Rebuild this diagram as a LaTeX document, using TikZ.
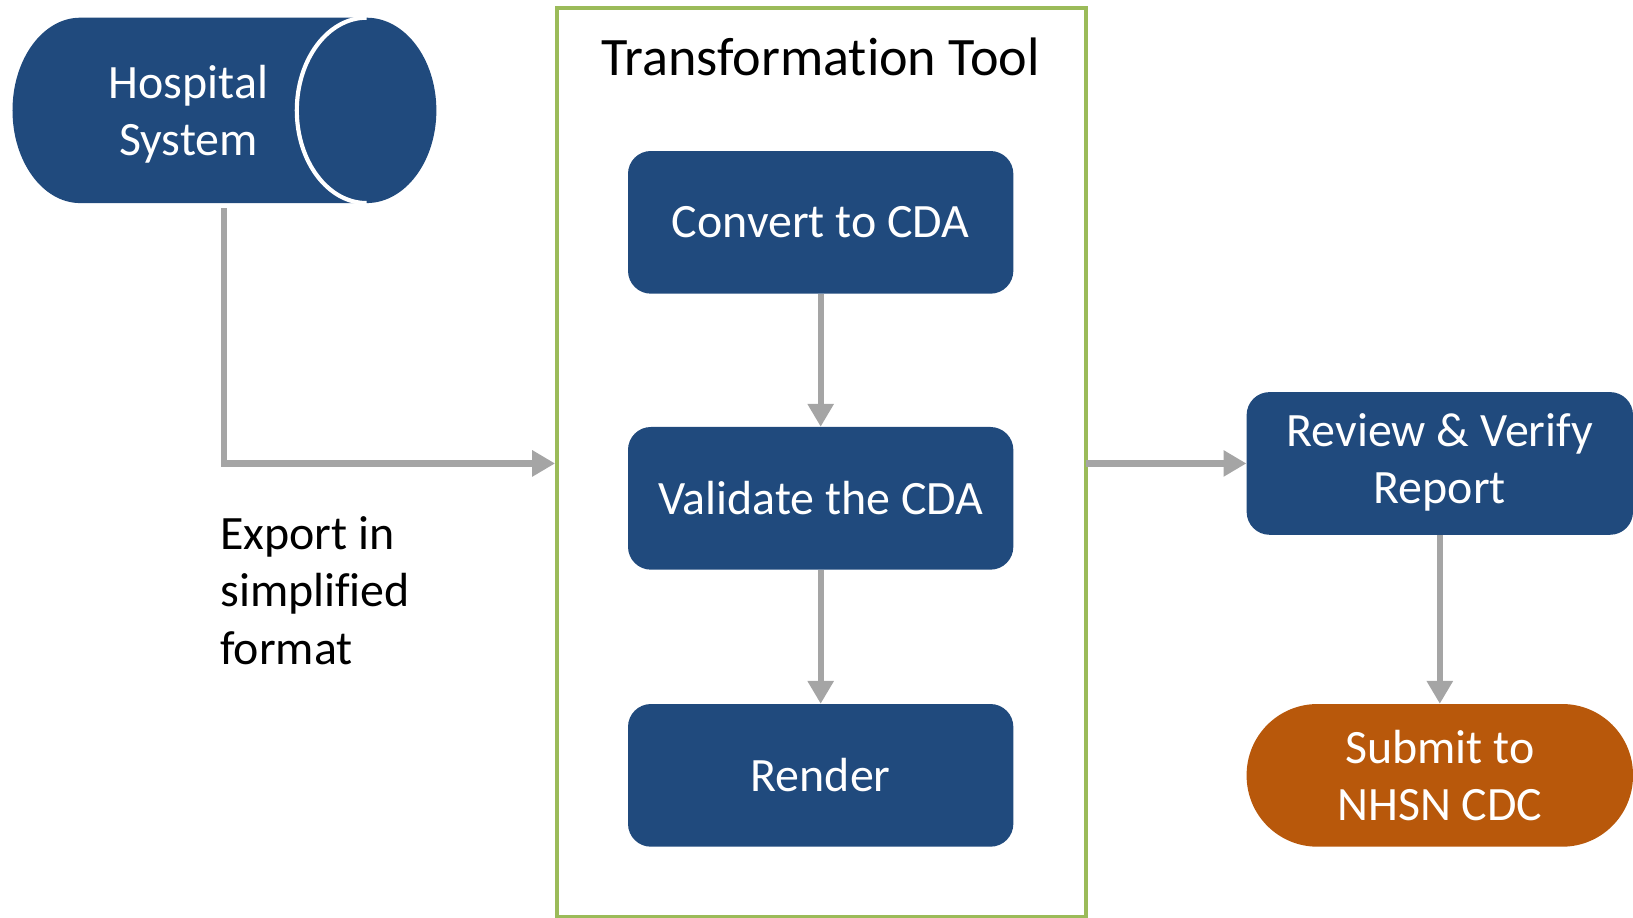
\documentclass[tikz,border=0pt]{standalone}
\usepackage{fontspec}
\setmainfont[Ligatures=NoCommon]{Carlito}
\usetikzlibrary{arrows.meta}
\definecolor{navy}{RGB}{32,74,125}
\definecolor{rust}{RGB}{184,88,11}
\definecolor{leaf}{RGB}{155,187,89}
\definecolor{wire}{RGB}{165,165,165}
\begin{document}
\begin{tikzpicture}[x=1pt,y=1pt,
  bigtext/.style={font=\fontsize{46}{55}\selectfont},
  stepbox/.style={rectangle, rounded corners=22pt, fill=navy, text=white,
    minimum width=370pt, minimum height=137pt, align=center, inner sep=0pt, bigtext},
  endbox/.style={rectangle, rounded corners=68pt, fill=rust, text=white,
    minimum width=371pt, minimum height=137pt, align=center, inner sep=0pt, bigtext},
  flow/.style={draw=wire, line width=6pt, -{Triangle[length=22pt,width=24pt]}},
]
\useasboundingbox (0,0) rectangle (1568,881);

% tool frame
\draw[leaf, line width=4pt] (535,0) rectangle (1043,873);
\node[font=\fontsize{52}{60}\selectfont, text=black] (title) at (788,826) {Transformation Tool};

% hospital system drum
\fill[navy] (352,864) -- (77,864)
  arc[start angle=90, end angle=270, x radius=65, y radius=89]
  -- (352,686)
  arc[start angle=-90, end angle=90, x radius=67, y radius=89] -- cycle;
\draw[white, line width=4pt] (352,864)
  arc[start angle=90, end angle=270, x radius=67, y radius=89];
\node[bigtext, text=white, align=center] (hosp) at (181,771) {Hospital\\System};
\coordinate (hospout) at (215,681);
\coordinate (bend) at (215,436);
\coordinate (framein) at (533,436);
\coordinate (frameout) at (1043,436);

% steps
\node[stepbox] (convert) at (788,667.5) {Convert to CDA};
\node[stepbox] (validate) at (788,402.5) {Validate the CDA};
\node[stepbox] (render) at (788,136.5) {Render};
\node[stepbox, minimum width=371pt] (review) at (1382.5,436) {\raisebox{-3pt}{\begin{tabular}{@{}c@{}}Review \& Verify\\Report\end{tabular}}};
\node[endbox] (submit) at (1382.5,136.5) {Submit to\\NHSN CDC};

\node[bigtext, anchor=west, align=left] (export) at (208,314) {Export in\\simplified\\format};

% connectors
\draw[flow] (hospout) -- (bend) -- (framein);
\draw[flow] (convert) -- (validate);
\draw[flow] (validate) -- (render);
\draw[flow] (frameout) -- (review);
\draw[flow] (review) -- (submit);
\end{tikzpicture}
\end{document}
